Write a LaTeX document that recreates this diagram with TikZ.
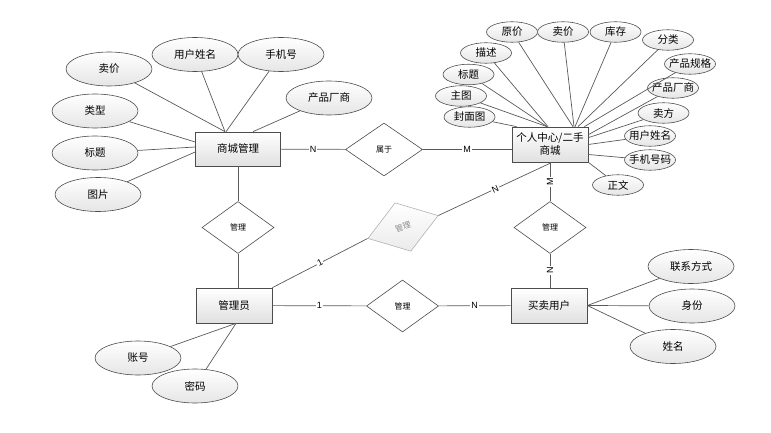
\documentclass[tikz,border=0pt]{standalone}
\usepackage{fontspec}
\setmainfont{Liberation Sans}
\newfontfamily\cjk{Noto Sans CJK SC}
\usetikzlibrary{shapes.geometric}

\begin{document}
\begin{tikzpicture}[
    x=1pt, y=-1pt,
    line/.style={draw=black!65, line width=0.7pt},
    entity/.style={draw=black!70, line width=0.7pt, top color=white, bottom color=black!12, minimum width=76pt, minimum height=35pt, align=center, inner sep=1pt, font=\cjk\fontsize{10.5}{13}\selectfont},
    attr/.style={ellipse, draw=black!70, line width=0.6pt, top color=white, bottom color=black!10, minimum width=86pt, minimum height=34pt, inner sep=0pt, font=\cjk\fontsize{10.5}{12}\selectfont},
    sattr/.style={attr, minimum width=51pt, minimum height=20.5pt, inner xsep=-6pt},
    rel/.style={diamond, draw=black!70, line width=0.6pt, fill=white, minimum width=72pt, minimum height=52pt, inner sep=0pt, font=\cjk\fontsize{8}{9}\selectfont},
    card/.style={fill=white, inner sep=1pt, font=\fontsize{9}{10}\selectfont}
]
\useasboundingbox (0,0) rectangle (771,433);

% Entities
\node[entity, minimum width=85pt, minimum height=34pt] (mall) at (238,149) {商城管理};
\node[entity] (pc) at (550,144.5) {个人中心/二手\\商城};
\node[entity] (admin) at (234,305.5) {管理员};
\node[entity] (user) at (549,305.5) {买卖用户};

% Relationships
\node[rel, minimum width=77pt, minimum height=53pt] (belong) at (384,149.5) {属于};
\node[rel] (mgmall) at (238,227.5) {管理};
\node[rel] (mguser) at (402.5,306) {管理};
\node[rel] (mgpc) at (550,227.5) {管理};
\node[rel, draw=black!30, text=black!45, top color=white, bottom color=black!8, rotate=18, minimum width=74pt, minimum height=51pt] (mgfaded) at (403,227) {管理};

% Attributes of the mall
\node[attr] (mprice) at (109,69) {卖价};
\node[attr] (mname) at (195,54.5) {用户姓名};
\node[attr] (mphone) at (281,54.5) {手机号};
\node[attr] (mmaker) at (329,98) {产品厂商};
\node[attr] (mtype) at (95,111) {类型};
\node[attr] (mtitle) at (95,153) {标题};
\node[attr] (mpic) at (98,194.5) {图片};

% Attributes of the personal centre
\node[sattr] (porig) at (512,32) {原价};
\node[sattr] (psale) at (563,32) {卖价};
\node[sattr] (pstock) at (615.5,32) {库存};
\node[sattr] (pcat) at (668,40) {分类};
\node[sattr] (pspec) at (690,64) {产品规格};
\node[sattr] (pmaker) at (673,88) {产品厂商};
\node[sattr] (pseller) at (663.5,113) {卖方};
\node[sattr] (pname) at (650,136) {用户姓名};
\node[sattr] (pphone) at (650,160) {手机号码};
\node[sattr] (pbody) at (618,185) {正文};
\node[sattr] (pdesc) at (486,53) {描述};
\node[sattr] (ptitle) at (468.5,74.5) {标题};
\node[sattr] (pmain) at (461,96) {主图};
\node[sattr] (pcover) at (469.5,117) {封面图};

% Attributes of the admin and the user
\node[attr] (account) at (138,358) {账号};
\node[attr] (pwd) at (195,386) {密码};
\node[attr] (ucontact) at (691,266.5) {联系方式};
\node[attr] (uid) at (692,306) {身份};
\node[attr] (uname) at (673,346.5) {姓名};

% Relations
\draw[line] (mall) -- node[card]{N} (belong);
\draw[line] (belong.east) -- node[card]{M} (belong.east -| pc.west);
\draw[line] (pc.south) -- node[card, rotate=90]{M} (mgpc);
\draw[line] (mgpc.south) -- node[card, rotate=90]{N} (mgpc.south |- user.north);
\draw[line] (mall) -- (mgmall);
\draw[line] (mgmall.south) -- (mgmall.south |- admin.north);
\draw[line] (admin) -- node[card]{1} (mguser);
\draw[line] (mguser) -- node[card]{N} (user);
\draw[line] (admin.north east) -- node[card, sloped]{1} (mgfaded.west);
\draw[line] (mgfaded.east) -- node[card, sloped]{N} ([xshift=2pt]pc.south);

% Attribute links
\draw[line] (mprice) -- ([xshift=-13pt]mall.north);
\draw[line] (mname) -- ([xshift=-13pt]mall.north);
\draw[line] (mphone) -- ([xshift=-12pt]mall.north);
\draw[line] (mmaker) -- ([xshift=15pt]mall.north);
\draw[line] (mtype) -- ([yshift=7pt]mall.west);
\draw[line] (mtitle) -- ([yshift=2pt]mall.west);
\draw[line] (mpic) -- ([yshift=-3pt]mall.west);

\draw[line] (pcover) -- ([xshift=5pt]pc.north west);
\draw[line] (pmain) -- ([xshift=-3pt]pc.north);
\draw[line] (ptitle) -- ([xshift=-3pt]pc.north);
\draw[line] (pdesc) -- ([xshift=-2pt]pc.north);
\draw[line] (porig) -- ([xshift=23pt]pc.north);
\draw[line] (psale) -- ([xshift=24pt]pc.north);
\draw[line] (pstock) -- ([xshift=25pt]pc.north);
\draw[line] (pcat) -- ([xshift=28pt]pc.north);
\draw[line] (pspec) -- ([xshift=-4pt]pc.north east);
\draw[line] (pmaker) -- ([yshift=-8pt]pc.north east);
\draw[line] (pseller) -- ([yshift=-11pt]pc.north east);
\draw[line] (pname) -- (pc.east);
\draw[line] (pphone) -- ([yshift=-10pt]pc.east);
\draw[line] (pbody) -- (pc.south east);

\draw[line] (account) -- ([xshift=2pt]admin.south);
\draw[line] (pwd) -- ([xshift=2pt]admin.south);
\draw[line] (ucontact) -- (user.east);
\draw[line] (uid) -- (user.east);
\draw[line] (uname) -- (user.east);

\end{tikzpicture}
\end{document}
